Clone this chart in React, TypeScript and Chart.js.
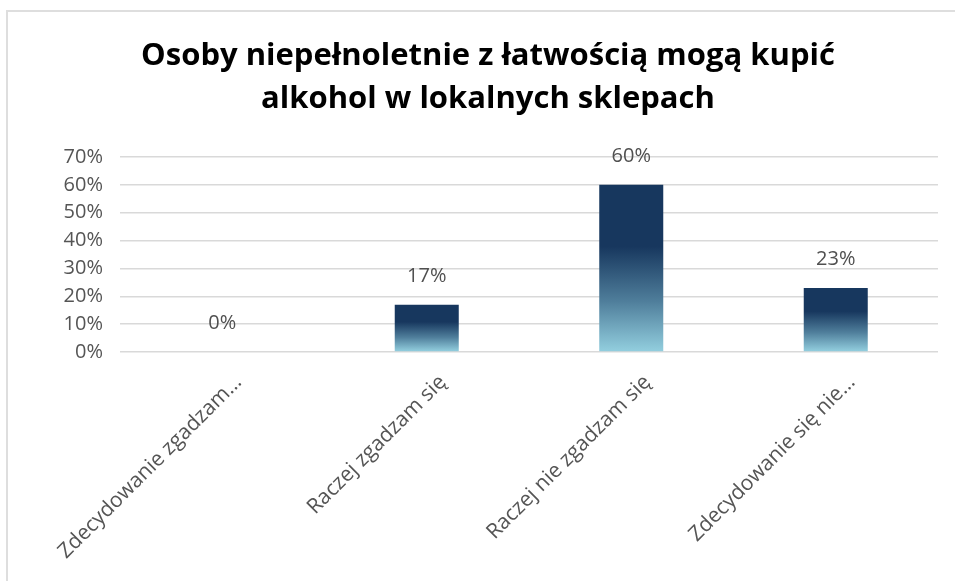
import React, { useEffect, useRef } from "react";
import { Chart, registerables } from "chart.js";

Chart.register(...registerables);

const titleLines = ["Osoby niepełnoletnie z łatwością mogą kupić", "alkohol w lokalnych sklepach"];
const categories = ["Zdecydowanie zgadzam…", "Raczej zgadzam się", "Raczej nie zgadzam się", "Zdecydowanie się nie…"];
const values = [0, 17, 60, 23];
const yMax = 70;
const yStep = 10;

const TEXT_FONT = "'Open Sans', 'Noto Sans', sans-serif";
const TITLE_FONT = "'Open Sans', 'Noto Sans', sans-serif";

const gradientPlugin = {
  id: "barGradient",
  beforeDatasetsDraw(chart: any) {
    const ctx = chart.ctx;
    chart.getDatasetMeta(0).data.forEach((el: any) => {
      const top = el.y;
      const base = el.base;
      if (base - top < 1) return;
      const g = ctx.createLinearGradient(0, top, 0, base);
      g.addColorStop(0, "#17375e");
      g.addColorStop(0.37, "#17375e");
      g.addColorStop(0.7, "#4f7e9b");
      g.addColorStop(1, "#92cede");
      el.options.backgroundColor = g;
    });
  },
};

const labelPlugin = {
  id: "valueLabels",
  afterDatasetsDraw(chart: any) {
    const ctx = chart.ctx;
    ctx.save();
    ctx.font = `20px ${TEXT_FONT}`;
    ctx.fillStyle = "#505050";
    ctx.textAlign = "center";
    ctx.textBaseline = "middle";
    chart.getDatasetMeta(0).data.forEach((el: any, i: number) => {
      ctx.fillText(`${values[i]}%`, el.x, el.y - 28.5);
    });
    ctx.restore();
  },
};

export default function App() {
  const ref = useRef<HTMLCanvasElement | null>(null);

  useEffect(() => {
    if (!ref.current) return;
    const chart = new Chart(ref.current, {
      type: "bar",
      data: {
        labels: categories,
        datasets: [
          {
            data: values,
            backgroundColor: () => "#17375e",
            borderWidth: 0,
            categoryPercentage: 1,
            barPercentage: 0.313,
          },
        ],
      },
      options: {
        animation: false,
        responsive: false,
        maintainAspectRatio: false,
        devicePixelRatio: 1,
        layout: { padding: { left: 38, right: 17, top: 0, bottom: 0 } },
        plugins: {
          legend: { display: false },
          tooltip: { enabled: false },
          title: {
            display: true,
            text: titleLines,
            color: "#000000",
            font: { family: TITLE_FONT, size: 31, weight: "bold", lineHeight: 1.4 },
            padding: { top: 34.5, bottom: 35.7 },
          },
        },
        scales: {
          x: {
            grid: { display: false },
            border: { display: false },
            ticks: {
              autoSkip: false,
              maxRotation: 45,
              minRotation: 45,
              color: "#555555",
              font: { family: TEXT_FONT, size: 21 },
              padding: 10,
              labelOffset: 16,
            },
            afterFit: (s: any) => {
              s.height = 229;
            },
          },
          y: {
            min: 0,
            max: yMax,
            border: { display: false },
            grid: { color: "#d9d9d9", lineWidth: 1.5, drawTicks: false },
            ticks: {
              stepSize: yStep,
              color: "#555555",
              font: { family: TEXT_FONT, size: 20 },
              padding: 17,
              callback: (v: any) => `${v}%`,
            },
            afterFit: (s: any) => {
              s.width = 82;
            },
          },
        },
      },
      plugins: [gradientPlugin, labelPlugin],
    });
    return () => chart.destroy();
  }, []);

  return (
    <div style={{ position: "fixed", left: 0, top: 0, width: 955, height: 581, background: "#ffffff", overflow: "hidden" }}>
      <canvas ref={ref} width={955} height={581} style={{ position: "absolute", left: 0, top: 0, width: 955, height: 581 }} />
      <div
        style={{
          position: "absolute",
          left: 6,
          top: 10,
          width: 1000,
          height: 700,
          borderTop: "2px solid #dedede",
          borderLeft: "2px solid #dedede",
          pointerEvents: "none",
        }}
      />
    </div>
  );
}
